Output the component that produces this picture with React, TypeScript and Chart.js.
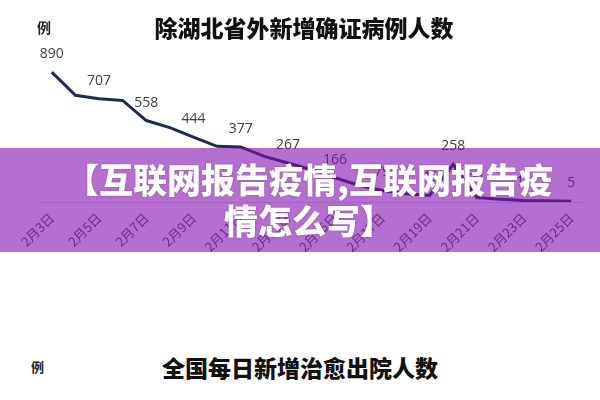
import React, { useEffect, useRef } from "react";
import { Chart, registerables } from "chart.js";

Chart.register(...registerables);

const dates = [
  "2月3日", "2月4日", "2月5日", "2月6日", "2月7日", "2月8日", "2月9日", "2月10日",
  "2月11日", "2月12日", "2月13日", "2月14日", "2月15日", "2月16日", "2月17日", "2月18日",
  "2月19日", "2月20日", "2月21日", "2月22日", "2月23日", "2月24日", "2月25日",
];
const newCases = [
  890, 731, 707, 696, 558, 509, 444, 381, 377, 312, 267, 221, 166, 115, 79, 56,
  45, 258, 31, 18, 11, 9, 5,
];
const labelledIndexes = [0, 2, 4, 6, 8, 10, 12, 14, 16, 17, 18, 20, 22];

const topTitle = "除湖北省外新增确证病例人数";
const bottomTitle = "全国每日新增治愈出院人数";
const unitLabel = "例";
const bannerLines = ["【互联网报告疫情,互联网报告疫", "情怎么写】"];

const CJK = '"Noto Sans CJK SC", "Noto Sans", sans-serif';

const valueLabelPlugin = {
  id: "valueLabels",
  afterDatasetsDraw(chart: any) {
    const ctx = chart.ctx;
    const meta = chart.getDatasetMeta(0);
    ctx.save();
    ctx.font = '14px "Open Sans", sans-serif';
    ctx.fillStyle = "#404040";
    ctx.textAlign = "center";
    ctx.textBaseline = "alphabetic";
    labelledIndexes.forEach((i) => {
      const pt = meta.data[i];
      if (!pt) return;
      ctx.fillText(String(newCases[i]), pt.x, pt.y - 14);
    });
    ctx.restore();
  },
};

export default function App() {
  const canvasRef = useRef<HTMLCanvasElement | null>(null);

  useEffect(() => {
    if (!canvasRef.current) return;
    const chart = new Chart(canvasRef.current, {
      type: "line",
      data: {
        labels: dates,
        datasets: [
          {
            data: newCases,
            borderColor: "#1f2d4d",
            borderWidth: 3,
            pointRadius: 0,
            tension: 0,
            fill: false,
          },
        ],
      },
      options: {
        animation: false,
        responsive: false,
        maintainAspectRatio: false,
        layout: { padding: { left: 40, right: 17, top: 56, bottom: 0 } },
        plugins: {
          legend: { display: false },
          tooltip: { enabled: false },
          title: { display: false },
        },
        scales: {
          x: {
            offset: true,
            grid: { display: true, drawOnChartArea: false, drawTicks: false },
            border: { display: true, color: "#d9d9d9", width: 1 },
            ticks: {
              autoSkip: false,
              minRotation: 45,
              maxRotation: 45,
              padding: 8,
              color: "#4d4d4d",
              font: { size: 13, family: CJK },
              callback: (_v: any, index: number) => (index % 2 === 0 ? dates[index] : null),
            },
            afterFit: (scale: any) => {
              scale.height = 68;
            },
          },
          y: {
            display: false,
            min: 0,
            max: 1000,
          },
        },
      },
      plugins: [valueLabelPlugin],
    });
    return () => chart.destroy();
  }, []);

  return (
    <div
      style={{
        position: "absolute",
        left: 0,
        top: 0,
        width: 600,
        height: 400,
        background: "#fff",
        overflow: "hidden",
        fontFamily: CJK,
      }}
    >
      <canvas ref={canvasRef} width={600} height={270} style={{ position: "absolute", left: 0, top: 0, width: 600, height: 270 }} />
      <div style={{ position: "absolute", left: 37, top: 18, fontSize: 14, fontWeight: 700, lineHeight: "18px", color: "#222" }}>
        {unitLabel}
      </div>
      <div style={{ position: "absolute", left: 4, top: 12, width: 600, textAlign: "center", fontSize: 23, fontWeight: 900, lineHeight: "30px", color: "#111" }}>
        {topTitle}
      </div>
      <div
        style={{
          position: "absolute",
          left: 0,
          top: 148,
          width: 600,
          height: 104,
          background: "rgba(132,15,177,0.6)",
        }}
      >
        <div
          style={{
            position: "absolute",
            left: 9,
            top: 10,
            width: 600,
            textAlign: "center",
            color: "#fff",
            fontSize: 34,
            fontWeight: 900,
            lineHeight: "41px",
            whiteSpace: "nowrap",
            textShadow: "0 0 2px rgba(60,0,80,0.35)",
          }}
        >
          {bannerLines[0]}
          <br />
          {bannerLines[1]}
        </div>
      </div>
      <div style={{ position: "absolute", left: 31, top: 358, fontSize: 13, fontWeight: 700, lineHeight: "18px", color: "#222" }}>
        {unitLabel}
      </div>
      <div style={{ position: "absolute", left: 0, top: 352, width: 600, textAlign: "center", fontSize: 23, fontWeight: 900, lineHeight: "30px", color: "#111" }}>
        {bottomTitle}
      </div>
    </div>
  );
}
